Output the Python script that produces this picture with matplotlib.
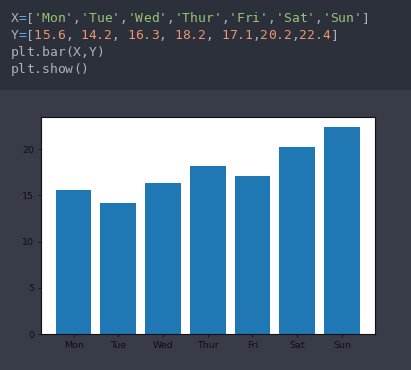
import matplotlib
matplotlib.use("Agg")
import matplotlib.pyplot as plt
from matplotlib.patches import Rectangle

# Data
X = ['Mon', 'Tue', 'Wed', 'Thur', 'Fri', 'Sat', 'Sun']
Y = [15.6, 14.2, 16.3, 18.2, 17.1, 20.2, 22.4]
Y_TEXT = ['15.6', ', ', '14.2', ', ', '16.3', ', ', '18.2', ', ', '17.1', ',', '20.2', ',', '22.4']

W, H = 411, 370
fig = plt.figure(figsize=(W / 100, H / 100), dpi=100)
fig.patch.set_facecolor('#383c49')

# code panel background
fig.patches.append(Rectangle((0, 1 - 90 / H), 1, 90 / H, transform=fig.transFigure,
                             facecolor='#2c303b', edgecolor='none', zorder=0))

C_ID = '#abb2bf'
C_EQ = '#61afef'
C_STR = '#98c379'
C_NUM = '#f0956f'

x0 = 10.5
cw = 7.8
fs = 13 * 72 / 100


def draw_line(segments, baseline):
    i = 0
    for s, c in segments:
        for ch in s:
            fig.text((x0 + i * cw) / W, 1 - baseline / H, ch, color=c,
                     family='DejaVu Sans Mono', fontsize=fs, va='baseline', ha='left')
            i += 1


seg1 = [('X', C_ID), ('=', C_EQ), ('[', C_ID)]
for k, name in enumerate(X):
    seg1.append(("'" + name + "'", C_STR))
    if k < len(X) - 1:
        seg1.append((',', C_ID))
seg1.append((']', C_ID))

seg2 = [('Y', C_ID), ('=', C_EQ), ('[', C_ID)]
for t in Y_TEXT:
    seg2.append((t, C_ID if t.strip() in (',',) else C_NUM))
seg2.append((']', C_ID))

draw_line(seg1, 21.8)
draw_line(seg2, 38.8)
draw_line([('plt.bar(X,Y)', C_ID)], 56)
draw_line([('plt.show()', C_ID)], 73)

# chart
ax = fig.add_axes([40.5 / W, 1 - 334.3 / H, (375 - 40.5) / W, (334.3 - 116.5) / H])
ax.set_facecolor('white')
ax.bar(X, Y, color='#1f77b4')
ax.set_yticks([0, 5, 10, 15, 20])
ax.tick_params(labelsize=6.8, length=2.5, width=0.6, colors='#111111', pad=2)
for sp in ax.spines.values():
    sp.set_linewidth(0.8)
    sp.set_color('#111111')

fig.savefig('out.png', dpi=100, facecolor=fig.get_facecolor())
